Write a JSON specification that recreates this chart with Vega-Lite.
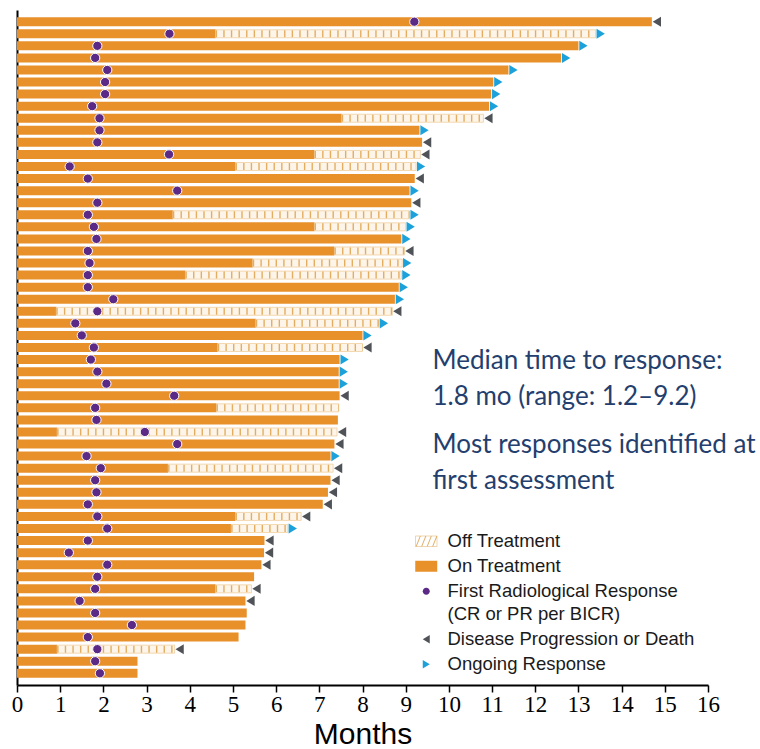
{
  "$schema": "https://vega.github.io/schema/vega-lite/v6.json",
  "width": 691,
  "height": 675,
  "autosize": {"type": "none"},
  "padding": {"left": 17, "top": 10, "right": 52, "bottom": 64},
  "background": "white",
  "config": {
    "view": {"stroke": null},
    "font": "Liberation Sans",
    "style": {"guide-label": {"lineHeight": 23}},
    "axisX": {
      "domainColor": "black", "domainWidth": 2, "tickColor": "black", "tickWidth": 1.5, "tickSize": 7,
      "labelFont": "Liberation Sans Narrow", "labelFontSize": 23, "labelColor": "black", "labelPadding": 1,
      "labelFlush": false, "labelOverlap": false, "grid": false,
      "titleFont": "Liberation Sans", "titleFontSize": 30, "titleFontWeight": "normal", "titleColor": "black", "titlePadding": 3
    },
    "axisY": {"domainColor": "black", "domainWidth": 2, "labels": false, "ticks": false, "grid": false, "title": null},
    "legend": {"title": null, "orient": "none", "legendX": 400, "legendY": 522, "symbolSize": 100, "symbolStrokeWidth": 0,
               "labelFont": "Liberation Sans", "labelFontSize": 18.5, "labelColor": "#1a1a1a", "labelOffset": 12, "rowPadding": 6, "labelLimit": 400}
  },
  "datasets": {
    "pts": [
      {"pt": "P01", "on": 14.7, "end": 14.7},
      {"pt": "P02", "on": 4.6, "end": 13.4},
      {"pt": "P03", "on": 13.0, "end": 13.0},
      {"pt": "P04", "on": 12.6, "end": 12.6},
      {"pt": "P05", "on": 11.38, "end": 11.38},
      {"pt": "P06", "on": 11.03, "end": 11.03},
      {"pt": "P07", "on": 10.98, "end": 10.98},
      {"pt": "P08", "on": 10.93, "end": 10.93},
      {"pt": "P09", "on": 7.52, "end": 10.8},
      {"pt": "P10", "on": 9.32, "end": 9.32},
      {"pt": "P11", "on": 9.38, "end": 9.38},
      {"pt": "P12", "on": 6.89, "end": 9.34},
      {"pt": "P13", "on": 5.06, "end": 9.24},
      {"pt": "P14", "on": 9.21, "end": 9.21},
      {"pt": "P15", "on": 9.09, "end": 9.09},
      {"pt": "P16", "on": 9.13, "end": 9.13},
      {"pt": "P17", "on": 3.61, "end": 9.09},
      {"pt": "P18", "on": 6.89, "end": 9.0},
      {"pt": "P19", "on": 8.9, "end": 8.9},
      {"pt": "P20", "on": 7.35, "end": 8.97},
      {"pt": "P21", "on": 5.46, "end": 8.92},
      {"pt": "P22", "on": 3.9, "end": 8.9},
      {"pt": "P23", "on": 8.84, "end": 8.84},
      {"pt": "P24", "on": 8.75, "end": 8.75},
      {"pt": "P25", "on": 0.91, "end": 8.69},
      {"pt": "P26", "on": 5.53, "end": 8.38},
      {"pt": "P27", "on": 8.0, "end": 8.0},
      {"pt": "P28", "on": 4.65, "end": 8.0},
      {"pt": "P29", "on": 7.47, "end": 7.47},
      {"pt": "P30", "on": 7.45, "end": 7.45},
      {"pt": "P31", "on": 7.45, "end": 7.45},
      {"pt": "P32", "on": 7.47, "end": 7.47},
      {"pt": "P33", "on": 4.62, "end": 7.45},
      {"pt": "P34", "on": 7.43, "end": 7.43},
      {"pt": "P35", "on": 0.93, "end": 7.41},
      {"pt": "P36", "on": 7.35, "end": 7.35},
      {"pt": "P37", "on": 7.26, "end": 7.26},
      {"pt": "P38", "on": 3.5, "end": 7.32},
      {"pt": "P39", "on": 7.26, "end": 7.26},
      {"pt": "P40", "on": 7.2, "end": 7.2},
      {"pt": "P41", "on": 7.08, "end": 7.08},
      {"pt": "P42", "on": 5.06, "end": 6.58},
      {"pt": "P43", "on": 4.96, "end": 6.27},
      {"pt": "P44", "on": 5.73, "end": 5.73},
      {"pt": "P45", "on": 5.72, "end": 5.72},
      {"pt": "P46", "on": 5.66, "end": 5.66},
      {"pt": "P47", "on": 5.49, "end": 5.49},
      {"pt": "P48", "on": 4.6, "end": 5.43},
      {"pt": "P49", "on": 5.29, "end": 5.29},
      {"pt": "P50", "on": 5.32, "end": 5.32},
      {"pt": "P51", "on": 5.29, "end": 5.29},
      {"pt": "P52", "on": 5.13, "end": 5.13},
      {"pt": "P53", "on": 0.93, "end": 3.65},
      {"pt": "P54", "on": 2.79, "end": 2.79},
      {"pt": "P55", "on": 2.79, "end": 2.79}
    ],
    "resp": [
      {"pt": "P01", "t": 9.2}, {"pt": "P02", "t": 3.53}, {"pt": "P03", "t": 1.86}, {"pt": "P04", "t": 1.81},
      {"pt": "P05", "t": 2.09}, {"pt": "P06", "t": 2.04}, {"pt": "P07", "t": 2.04}, {"pt": "P08", "t": 1.74},
      {"pt": "P09", "t": 1.91}, {"pt": "P10", "t": 1.91}, {"pt": "P11", "t": 1.86}, {"pt": "P12", "t": 3.52},
      {"pt": "P13", "t": 1.22}, {"pt": "P14", "t": 1.64}, {"pt": "P15", "t": 3.71}, {"pt": "P16", "t": 1.86},
      {"pt": "P17", "t": 1.64}, {"pt": "P18", "t": 1.78}, {"pt": "P19", "t": 1.84}, {"pt": "P20", "t": 1.64},
      {"pt": "P21", "t": 1.68}, {"pt": "P22", "t": 1.64}, {"pt": "P23", "t": 1.64}, {"pt": "P24", "t": 2.23},
      {"pt": "P25", "t": 1.86}, {"pt": "P26", "t": 1.35}, {"pt": "P27", "t": 1.5}, {"pt": "P28", "t": 1.78},
      {"pt": "P29", "t": 1.71}, {"pt": "P30", "t": 1.86}, {"pt": "P31", "t": 2.07}, {"pt": "P32", "t": 3.64},
      {"pt": "P33", "t": 1.81}, {"pt": "P34", "t": 1.84}, {"pt": "P35", "t": 2.96}, {"pt": "P36", "t": 3.71},
      {"pt": "P37", "t": 1.61}, {"pt": "P38", "t": 1.94}, {"pt": "P39", "t": 1.81}, {"pt": "P40", "t": 1.84},
      {"pt": "P41", "t": 1.64}, {"pt": "P42", "t": 1.86}, {"pt": "P43", "t": 2.09}, {"pt": "P44", "t": 1.64},
      {"pt": "P45", "t": 1.2}, {"pt": "P46", "t": 2.09}, {"pt": "P47", "t": 1.86}, {"pt": "P48", "t": 1.81},
      {"pt": "P49", "t": 1.45}, {"pt": "P50", "t": 1.81}, {"pt": "P51", "t": 2.66}, {"pt": "P52", "t": 1.64},
      {"pt": "P53", "t": 1.86}, {"pt": "P54", "t": 1.81}, {"pt": "P55", "t": 1.92}
    ],
    "ends": [
      {"pt": "P01", "t": 14.7, "ev": "Disease Progression or Death"},
      {"pt": "P02", "t": 13.4, "ev": "Ongoing Response"},
      {"pt": "P03", "t": 13.0, "ev": "Ongoing Response"},
      {"pt": "P04", "t": 12.6, "ev": "Ongoing Response"},
      {"pt": "P05", "t": 11.38, "ev": "Ongoing Response"},
      {"pt": "P06", "t": 11.03, "ev": "Ongoing Response"},
      {"pt": "P07", "t": 10.98, "ev": "Ongoing Response"},
      {"pt": "P08", "t": 10.93, "ev": "Ongoing Response"},
      {"pt": "P09", "t": 10.8, "ev": "Disease Progression or Death"},
      {"pt": "P10", "t": 9.32, "ev": "Ongoing Response"},
      {"pt": "P11", "t": 9.38, "ev": "Disease Progression or Death"},
      {"pt": "P12", "t": 9.34, "ev": "Disease Progression or Death"},
      {"pt": "P13", "t": 9.24, "ev": "Ongoing Response"},
      {"pt": "P14", "t": 9.21, "ev": "Disease Progression or Death"},
      {"pt": "P15", "t": 9.09, "ev": "Ongoing Response"},
      {"pt": "P16", "t": 9.13, "ev": "Disease Progression or Death"},
      {"pt": "P17", "t": 9.09, "ev": "Ongoing Response"},
      {"pt": "P18", "t": 9.0, "ev": "Ongoing Response"},
      {"pt": "P19", "t": 8.9, "ev": "Ongoing Response"},
      {"pt": "P20", "t": 8.97, "ev": "Disease Progression or Death"},
      {"pt": "P21", "t": 8.92, "ev": "Ongoing Response"},
      {"pt": "P22", "t": 8.9, "ev": "Ongoing Response"},
      {"pt": "P23", "t": 8.84, "ev": "Ongoing Response"},
      {"pt": "P24", "t": 8.75, "ev": "Ongoing Response"},
      {"pt": "P25", "t": 8.69, "ev": "Disease Progression or Death"},
      {"pt": "P26", "t": 8.38, "ev": "Ongoing Response"},
      {"pt": "P27", "t": 8.0, "ev": "Ongoing Response"},
      {"pt": "P28", "t": 8.0, "ev": "Disease Progression or Death"},
      {"pt": "P29", "t": 7.47, "ev": "Ongoing Response"},
      {"pt": "P30", "t": 7.45, "ev": "Ongoing Response"},
      {"pt": "P31", "t": 7.45, "ev": "Ongoing Response"},
      {"pt": "P32", "t": 7.47, "ev": "Disease Progression or Death"},
      {"pt": "P35", "t": 7.41, "ev": "Disease Progression or Death"},
      {"pt": "P36", "t": 7.35, "ev": "Disease Progression or Death"},
      {"pt": "P37", "t": 7.26, "ev": "Ongoing Response"},
      {"pt": "P38", "t": 7.32, "ev": "Disease Progression or Death"},
      {"pt": "P39", "t": 7.26, "ev": "Disease Progression or Death"},
      {"pt": "P40", "t": 7.2, "ev": "Disease Progression or Death"},
      {"pt": "P41", "t": 7.08, "ev": "Disease Progression or Death"},
      {"pt": "P42", "t": 6.58, "ev": "Disease Progression or Death"},
      {"pt": "P43", "t": 6.27, "ev": "Ongoing Response"},
      {"pt": "P44", "t": 5.73, "ev": "Disease Progression or Death"},
      {"pt": "P45", "t": 5.72, "ev": "Disease Progression or Death"},
      {"pt": "P46", "t": 5.66, "ev": "Disease Progression or Death"},
      {"pt": "P48", "t": 5.43, "ev": "Disease Progression or Death"},
      {"pt": "P49", "t": 5.29, "ev": "Disease Progression or Death"},
      {"pt": "P53", "t": 3.65, "ev": "Disease Progression or Death"}
    ],
    "notes": [
      {"pt": "P29", "x": 9.62, "txt": "Median time to response:"},
      {"pt": "P32", "x": 9.62, "txt": "1.8 mo (range: 1.2–9.2)"},
      {"pt": "P36", "x": 9.62, "txt": "Most responses identified at"},
      {"pt": "P39", "x": 9.62, "txt": "first assessment"}
    ]
  },
  "encoding": {
    "y": {"field": "pt", "type": "ordinal", "sort": "ascending", "title": null,
          "scale": {"paddingInner": 0, "paddingOuter": 0.47}}
  },
  "layer": [
    {
      "data": {"name": "pts"},
      "mark": {"type": "bar", "size": 9, "color": "#E8912B"},
      "encoding": {
        "x": {"field": "on", "type": "quantitative", "title": "Months",
              "scale": {"domain": [0, 16], "nice": false, "zero": true},
              "axis": {"values": [0,1,2,3,4,5,6,7,8,9,10,11,12,13,14,15,16]}}
      }
    },
    {
      "data": {"name": "pts"},
      "transform": [{"filter": "datum.end > datum.on"}],
      "mark": {"type": "bar", "size": 8, "fill": "#FDF5EA", "stroke": "#EEC992", "strokeWidth": 0.7},
      "encoding": {
        "x": {"field": "on", "type": "quantitative", "title": "Months"},
        "x2": {"field": "end"}
      }
    },
    {
      "data": {"name": "pts"},
      "transform": [{"filter": "datum.end > datum.on"}],
      "mark": {"type": "rule", "strokeWidth": 7, "strokeDash": [1.4, 6.2], "color": "#E3AE62"},
      "encoding": {
        "x": {"field": "on", "type": "quantitative", "title": "Months"},
        "x2": {"field": "end"}
      }
    },
    {
      "data": {"name": "resp"},
      "transform": [{"filter": "datum.t > 0"}],
      "mark": {"type": "point", "filled": true, "size": 175, "stroke": "white", "strokeWidth": 1, "opacity": 1},
      "encoding": {
        "x": {"field": "t", "type": "quantitative", "title": "Months"},
        "color": {"datum": "First Radiological Response", "type": "nominal",
          "scale": {"domain": ["Off Treatment", "On Treatment", "First Radiological Response", "Disease Progression or Death", "Ongoing Response"],
                    "range": ["#E0AE66", "#E8912B", "#5B2A86", "#4F5358", "#1DA1DB"]},
          "legend": {"title": null,
                     "labelExpr": "datum.label == 'First Radiological Response' ? ['First Radiological Response', '(CR or PR per BICR)'] : datum.label"}},
        "shape": {"datum": "First Radiological Response", "type": "nominal",
          "scale": {"domain": ["Off Treatment", "On Treatment", "First Radiological Response", "Disease Progression or Death", "Ongoing Response"],
                    "range": [
                      "M-2.2,-1.1H2.2V1.1H-2.2Z M-2.1,-1V1H2.1V-1Z M-2.1,1L-1.3,-1L-1.1,-1L-1.9,1Z M-1,1L-0.2,-1L0,-1L-0.8,1Z M0.1,1L0.9,-1L1.1,-1L0.3,1Z M1.2,1L2,-1L2.2,-1L1.4,1Z",
                      "M-2.2,-1.1H2.2V1.1H-2.2Z",
                      "M0.7,0A0.7,0.7 0 1,1 -0.7,0A0.7,0.7 0 1,1 0.7,0Z",
                      "M-0.7,0L0.7,-0.85L0.7,0.85Z",
                      "M0.7,0L-0.7,-0.85L-0.7,0.85Z"
                    ]},
          "legend": {"title": null,
                     "labelExpr": "datum.label == 'First Radiological Response' ? ['First Radiological Response', '(CR or PR per BICR)'] : datum.label"}}
      }
    },
    {
      "data": {"name": "ends"},
      "mark": {"type": "point", "filled": true, "size": 140, "strokeWidth": 0, "opacity": 1, "xOffset": 5},
      "encoding": {
        "x": {"field": "t", "type": "quantitative", "title": "Months"},
        "color": {"field": "ev", "type": "nominal", "title": null,
          "legend": {"title": null,
                     "labelExpr": "datum.label == 'First Radiological Response' ? ['First Radiological Response', '(CR or PR per BICR)'] : datum.label"}},
        "shape": {"field": "ev", "type": "nominal", "title": null,
          "legend": {"title": null,
                     "labelExpr": "datum.label == 'First Radiological Response' ? ['First Radiological Response', '(CR or PR per BICR)'] : datum.label"}}
      }
    },
    {
      "data": {"name": "notes"},
      "mark": {"type": "text", "align": "left", "baseline": "middle", "font": "Lato", "fontSize": 26, "color": "#243F6E", "dy": 1},
      "encoding": {
        "x": {"field": "x", "type": "quantitative", "title": "Months"},
        "text": {"field": "txt"}
      }
    }
  ]
}
